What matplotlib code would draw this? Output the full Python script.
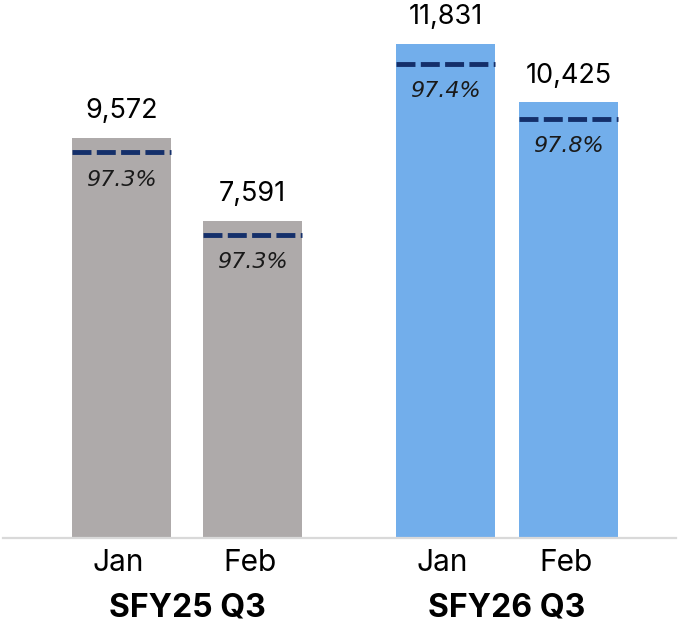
import matplotlib
matplotlib.use("Agg")
import matplotlib.pyplot as plt

# ---------- data ----------
groups = ["SFY25 Q3", "SFY26 Q3"]
months = ["Jan", "Feb", "Jan", "Feb"]
totals = [9572, 7591, 11831, 10425]          # bar values
marker_vals = [9222, 7241, 11346, 10029]     # dashed line level inside each bar
rate_labels = ["97.3%", "97.3%", "97.4%", "97.8%"]

# ---------- style ----------
plt.rcParams["font.family"] = ["Inter", "Liberation Sans", "DejaVu Sans"]
bar_colors = ["#AEAAAA", "#AEAAAA", "#72AEEB", "#72AEEB"]
line_color = "#142F6A"
xpos = [0, 1, 2.473, 3.412]
width = 0.756

W, H = 679, 628
fig = plt.figure(figsize=(W / 100, H / 100), dpi=100)
base_px = 537.5
ax = fig.add_axes([0, (H - base_px) / H, 1, base_px / H])
ax.set_xlim(-0.9275, 4.256)
ax.set_ylim(0, base_px / 0.04175)
ax.axis("off")

ax.bar(xpos, totals, width=width, color=bar_colors, zorder=2)

for x, v, m, lab in zip(xpos, totals, marker_vals, rate_labels):
    ax.plot([x - width / 2, x + width / 2], [m, m], color=line_color,
            lw=3.5, ls=(0, (3.9, 1.1)), solid_capstyle="butt", zorder=3)
    ax.annotate(f"{v:,}", (x, v), xytext=(0, 19), textcoords="offset points",
                ha="center", va="center", fontsize=19.5, color="black")
    ax.annotate(lab, (x, m), xytext=(0, -19.5), textcoords="offset points",
                ha="center", va="center", fontsize=16, style="italic",
                family=["DejaVu Sans"], color="#1a1a1a")

# baseline
ax.axhline(0, xmin=0.0045, xmax=0.9955, color="#D9D9D9", lw=1.6, zorder=4, clip_on=False)

# category labels
for x, mo in zip(xpos, months):
    ax.annotate(mo, (x, 0), xytext=(-2, -18.5), textcoords="offset points",
                ha="center", va="center", fontsize=21.5, annotation_clip=False)
for i, g in enumerate(groups):
    gx = (xpos[2 * i] + xpos[2 * i + 1]) / 2
    ax.annotate(g, (gx, 0), xytext=(0, -51), textcoords="offset points",
                ha="center", va="center", fontsize=23, fontweight="bold",
                annotation_clip=False)

fig.savefig("out.png", dpi=100)
